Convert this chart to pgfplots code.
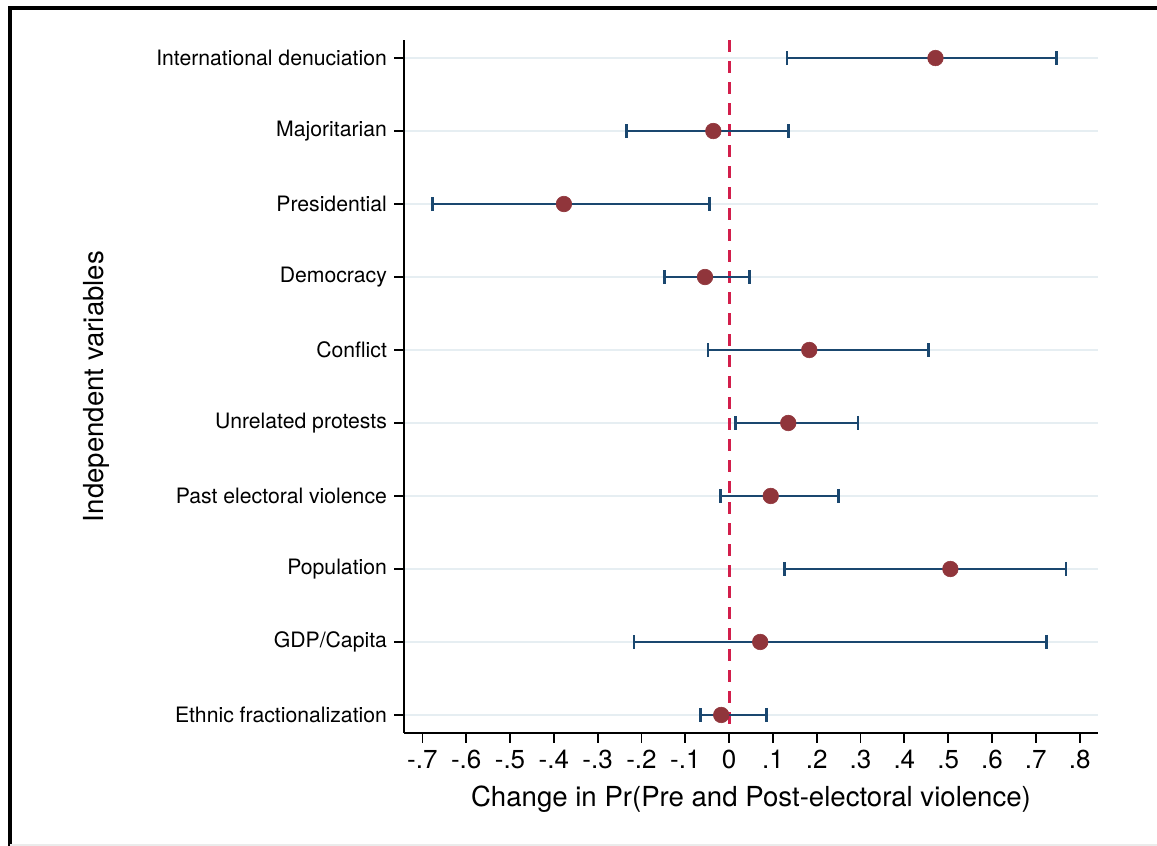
\documentclass[border=0pt]{standalone}
\usepackage{pgfplots}
\usepackage{pgfplotstable}
\pgfplotsset{compat=1.18}
\usepackage{fontspec}
\setmainfont{TeX Gyre Heros}
\definecolor{statanavy}{RGB}{26,71,111}
\definecolor{statamaroon}{RGB}{144,53,59}
\definecolor{refred}{RGB}{210,30,75}
\definecolor{gridc}{RGB}{230,238,242}
\pgfplotstableread{
pos est lo hi
10 0.471 0.132 0.748
9 -0.036 -0.235 0.135
8 -0.377 -0.677 -0.045
7 -0.055 -0.148 0.046
6 0.183 -0.048 0.456
5 0.135 0.015 0.294
4 0.095 -0.019 0.250
3 0.505 0.126 0.769
2 0.071 -0.217 0.725
1 -0.018 -0.066 0.086
}\datatable
\begin{document}
\begin{tikzpicture}
\path[use as bounding box] (0,0) rectangle (578.5pt,423pt);
\draw[black, line width=2pt] (5pt,0) -- (5pt,419pt) -- (578.5pt,419pt);
\draw[black!8, line width=0.8pt] (5pt,0.4pt) -- (578.5pt,0.4pt);
\begin{axis}[
  scale only axis,
  width=347pt, height=346.5pt,
  at={(202pt,56.5pt)}, anchor=south west,
  xmin=-0.742, xmax=0.842,
  ymin=0.753, ymax=10.247,
  axis x line*=bottom, axis y line*=left,
  axis line style={line width=0.9pt, -},
  tick align=outside,
  major tick length=5pt,
  tick style={line width=0.9pt, black},
  xtick={-0.7,-0.6,-0.5,-0.4,-0.3,-0.2,-0.1,0,0.1,0.2,0.3,0.4,0.5,0.6,0.7,0.8},
  xticklabels={-.7,-.6,-.5,-.4,-.3,-.2,-.1,0,.1,.2,.3,.4,.5,.6,.7,.8},
  ytick={1,2,3,4,5,6,7,8,9,10},
  yticklabels={Ethnic fractionalization,GDP/Capita,Population,Past electoral violence,Unrelated protests,Conflict,Democracy,Presidential,Majoritarian,International denuciation},
  xticklabel style={font=\fontsize{13}{15}\selectfont},
  yticklabel style={font=\fontsize{10.6}{12}\selectfont},
  ymajorgrids,
  major grid style={draw=gridc, line width=1.4pt},
  xlabel={Change in Pr(Pre and Post-electoral violence)},
  ylabel={Independent variables},
  xlabel style={font=\fontsize{13.8}{16}\selectfont, yshift=-1.5pt},
  ylabel style={font=\fontsize{13.8}{16}\selectfont, at={(axis description cs:-0.4438,0.5)}, anchor=center},
  clip=false,
]
\addplot[refred, line width=1.4pt, dash pattern=on 6pt off 4.5pt, forget plot] coordinates {(0,10.247) (0,0.753)};
\addplot[draw=none, mark=none, forget plot,
  error bars/.cd, x dir=both, x explicit, error mark=|,
  error bar style={draw=statanavy, line width=1.4pt, solid},
  error mark options={draw=statanavy, line width=1.4pt, mark size=3.5pt}]
  table[x=est, y=pos, x error plus expr=\thisrow{hi}-\thisrow{est}, x error minus expr=\thisrow{est}-\thisrow{lo}] {\datatable};
\addplot[only marks, mark=*, mark size=3.9pt, mark options={fill=statamaroon, draw=statamaroon, line width=0.3pt}]
  table[x=est, y=pos] {\datatable};
\end{axis}
\end{tikzpicture}
\end{document}
